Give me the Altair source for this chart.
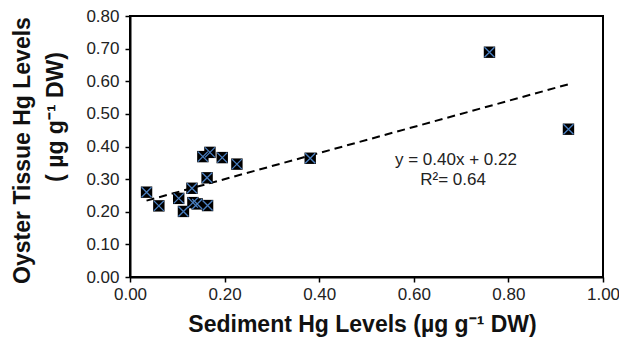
import altair as alt
import pandas as pd

sediment = [0.035, 0.061, 0.103, 0.113, 0.131, 0.133, 0.142, 0.154, 0.169, 0.163, 0.164, 0.195, 0.226, 0.381, 0.760, 0.927]
oyster = [0.260, 0.218, 0.241, 0.201, 0.272, 0.228, 0.224, 0.369, 0.382, 0.304, 0.219, 0.366, 0.346, 0.364, 0.689, 0.453]
fit_x = [0.035, 0.93]
slope = 0.40
intercept = 0.22
eq_text = ["y = 0.40x + 0.22", "R²= 0.64"]
eq_x = [0.689, 0.683]
eq_y = [0.359, 0.297]
x_title = "Sediment Hg Levels (µg g⁻¹ DW)"
y_title_1 = "Oyster Tissue Hg Levels"
y_title_2 = ["( µg g⁻¹ DW)"]

pts = pd.DataFrame({"x": sediment, "y": oyster})
fit = pd.DataFrame({"x": fit_x, "y": [slope * v + intercept for v in fit_x]})
ann = pd.DataFrame({"x": eq_x, "y": eq_y, "t": eq_text})
yt2 = pd.DataFrame({"t": y_title_2})

xs = alt.Scale(domain=[0, 1.0], nice=False, zero=True, padding=0)
ys = alt.Scale(domain=[0, 0.8], nice=False, zero=True, padding=0)

xenc = alt.X("x:Q", scale=xs, axis=alt.Axis(
    values=[0, 0.2, 0.4, 0.6, 0.8, 1.0], format=".2f", labelOverlap=False, labelFlush=False,
    labelPadding=4, labelFontSize=17,
    title=x_title, titleY=36, titleX=232))
yenc = alt.Y("y:Q", scale=ys, axis=alt.Axis(
    values=[0, 0.1, 0.2, 0.3, 0.4, 0.5, 0.6, 0.7, 0.8], format=".2f", labelOverlap=False,
    labelFlush=False, labelPadding=6, labelFontSize=17,
    title=y_title_1, titleX=-101, titleY=134, titleBaseline="alphabetic", titleAlign="center",
    titleAngle=270))

line = alt.Chart(fit).mark_line(color="black", strokeWidth=2, strokeDash=[8, 5]).encode(x=xenc, y=yenc)
sq = alt.Chart(pts).mark_square(color="black", size=130, opacity=1).encode(x=xenc, y=yenc)
xm = alt.Chart(pts).mark_point(
    shape="M-1,-1L1,1M-1,1L1,-1", size=100, filled=False, stroke="#4a7fc0", strokeWidth=1.3, opacity=1
).encode(x=xenc, y=yenc)
txt = alt.Chart(ann).mark_text(fontSize=17, font="Liberation Sans", color="#222").encode(
    x=xenc, y=yenc, text="t:N")
t2 = alt.Chart(yt2).mark_text(
    fontSize=23, font="Liberation Sans", fontWeight="bold", color="#111", angle=270,
    align="center", baseline="alphabetic"
).encode(x=alt.value(-67), y=alt.value(101), text="t:N")

chart = alt.layer(line, sq, xm, txt, t2).properties(
    width=473, height=261,
    background="white",
    autosize=alt.AutoSizeParams(type="none"),
    padding={"left": 122, "top": 8, "right": 16, "bottom": 61},
).configure_view(stroke="black", strokeWidth=2).configure_axis(
    grid=False, domainColor="black", domainWidth=2, tickColor="black", tickSize=5, tickWidth=1.5,
    labelFont="Liberation Sans", labelFontSize=17, labelColor="#222",
    titleFont="Liberation Sans", titleFontSize=23, titleFontWeight="bold", titleColor="#111",
)

chart.save("out.html", embed_options={"renderer": "svg", "actions": False})
